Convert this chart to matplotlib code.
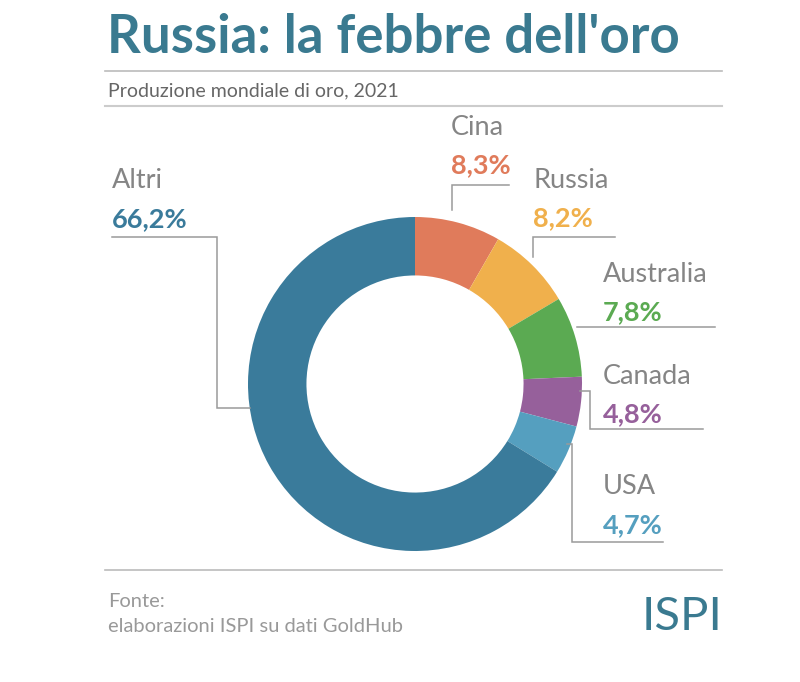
import matplotlib
matplotlib.use("Agg")
import matplotlib.pyplot as plt

# dati (quota % della produzione mondiale di oro, 2021)
paesi = ["Cina", "Russia", "Australia", "Canada", "USA", "Altri"]
quote = [8.3, 8.2, 7.8, 4.8, 4.7, 66.2]
etichette = ["8,3%", "8,2%", "7,8%", "4,8%", "4,7%", "66,2%"]
colori = ["#E07B5B", "#F0B04C", "#5BAA52", "#96609B", "#559FBF", "#3A7B9B"]

TEAL = "#3A7A90"
GRIGIO = "#858585"
LINEA = "#9A9A9A"
H = 682

plt.rcParams['font.family'] = ['Lato', 'DejaVu Sans']

fig = plt.figure(figsize=(8, 6.82), dpi=100)
ax = fig.add_axes([0, 0, 1, 1])

def Y(y):
    return H - y

# ciambella
ax.pie(quote, colors=colori, startangle=90, counterclock=False,
       radius=167, center=(415, Y(384)), frame=True,
       wedgeprops=dict(width=167 * 0.35, edgecolor="none"))
ax.set_xlim(0, 800)
ax.set_ylim(0, H)
ax.axis("off")

# titolo e sottotitolo
ax.text(107, Y(53), "Russia: la febbre dell'oro", fontsize=38, fontweight="bold",
        color=TEAL, va="baseline", ha="left")
ax.plot([105, 722], [Y(71), Y(71)], color="#BBBBBB", lw=1.2)
ax.text(108, Y(96), "Produzione mondiale di oro, 2021", fontsize=14,
        color="#666666", va="baseline", ha="left")
ax.plot([105, 722], [Y(106), Y(106)], color="#CCCCCC", lw=1.5)

# etichette: (x, baseline nome, baseline valore)
pos = {
    "Cina": (451, 135, 173),
    "Russia": (533, 188, 226),
    "Australia": (603, 282, 320),
    "Canada": (603, 384, 422),
    "USA": (603, 494, 533),
    "Altri": (112, 188, 227),
}
for p, e, c in zip(paesi, etichette, colori):
    x, yn, yv = pos[p]
    ax.text(x, Y(yn), p, fontsize=19.5, fontweight="normal", color=GRIGIO,
            va="baseline", ha="left")
    ax.text(x, Y(yv), e, fontsize=19.5, fontweight="bold", color=c,
            va="baseline", ha="left")

# linee guida
guide = [
    [(452, 210), (452, 185), (509, 185)],
    [(533, 257), (533, 237), (615, 237)],
    [(577, 327), (715, 327)],
    [(580, 391), (590, 391), (590, 429), (703, 429)],
    [(567, 444), (572, 444), (572, 542), (663, 542)],
    [(250, 408), (217, 408), (217, 237), (112, 237)],
]
for g in guide:
    ax.plot([a for a, b in g], [Y(b) for a, b in g], color=LINEA, lw=1.1,
            solid_joinstyle="miter")

# piede
ax.plot([105, 722], [Y(570), Y(570)], color="#BBBBBB", lw=1.2)
ax.text(108, Y(607), "Fonte:", fontsize=14.5, fontweight="normal", color="#999999",
        va="baseline", ha="left")
ax.text(108, Y(632), "elaborazioni ISPI su dati GoldHub", fontsize=14.5,
        fontweight="normal", color="#999999", va="baseline", ha="left")
ax.text(722, Y(630), "ISPI", fontsize=34, fontweight="normal", color=TEAL,
        va="baseline", ha="right")

fig.savefig("out.png", dpi=100, facecolor="white")
